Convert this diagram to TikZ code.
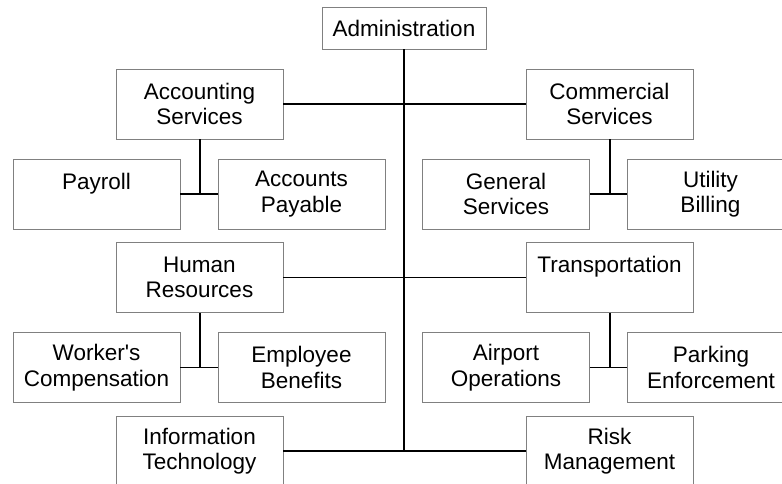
\documentclass[tikz,border=0pt]{standalone}
\usepackage{fontspec}
\setmainfont{Liberation Sans}[Ligatures=TeXOff]
\begin{document}
\begin{tikzpicture}[x=1pt,y=-1pt,
  box/.style={draw=black!50,line width=0.9pt,rectangle,inner sep=0pt,
    minimum width=167pt,minimum height=70pt,align=center,
    font=\fontsize{22.5pt}{25.5pt}\selectfont},
  trunk/.style={draw=black,line width=2pt},
  branch/.style={draw=black,line width=1.3pt}]
\useasboundingbox (0,0) rectangle (782,483);
\begin{scope}
\clip (0,0) rectangle (782,483);
\node[box,minimum width=164pt,minimum height=42pt] (adm) at (404,28) {Administration};
\node[box] (acc) at (199.5,104) {Accounting\\Services};
\node[box] (pay) at (96.5,194) {Payroll\\\phantom{X}};
\node[box] (ap) at (301.5,194) {Accounts\\Payable};
\node[box] (com) at (609.5,104) {Commercial\\Services};
\node[box] (gen) at (506,194) {General\\Services};
\node[box] (ub) at (710.5,194) {Utility\\Billing};
\node[box] (hr) at (199.5,277.5) {Human\\Resources};
\node[box] (wc) at (96.5,367.5) {Worker's\\Compensation};
\node[box] (eb) at (301.5,367.5) {Employee\\Benefits};
\node[box] (tr) at (609.5,277.5) {Transportation\\\phantom{X}};
\node[box] (ao) at (506,367.5) {Airport\\Operations};
\node[box] (pe) at (711,367.5) {Parking\\Enforcement};
\node[box] (it) at (199.5,451) {Information\\Technology};
\node[box] (rm) at (609.5,451) {Risk\\Management};
\coordinate (tb) at (adm.south |- it.east);
\draw[trunk] (adm.south) -- (tb);
\draw[branch] (acc.east) -- (com.west);
\draw[branch] (hr.east) -- (tr.west);
\draw[branch] (it.east) -- (rm.west);
\draw[trunk] (acc.south) -- (acc.south |- pay.east);
\draw[branch] (pay.east) -- (ap.west);
\draw[trunk] (com.south) -- (com.south |- gen.east);
\draw[branch] (gen.east) -- (ub.west);
\draw[trunk] (hr.south) -- (hr.south |- wc.east);
\draw[branch] (wc.east) -- (eb.west);
\draw[trunk] (tr.south) -- (tr.south |- ao.east);
\draw[branch] (ao.east) -- (pe.west);
\end{scope}
\end{tikzpicture}
\end{document}
